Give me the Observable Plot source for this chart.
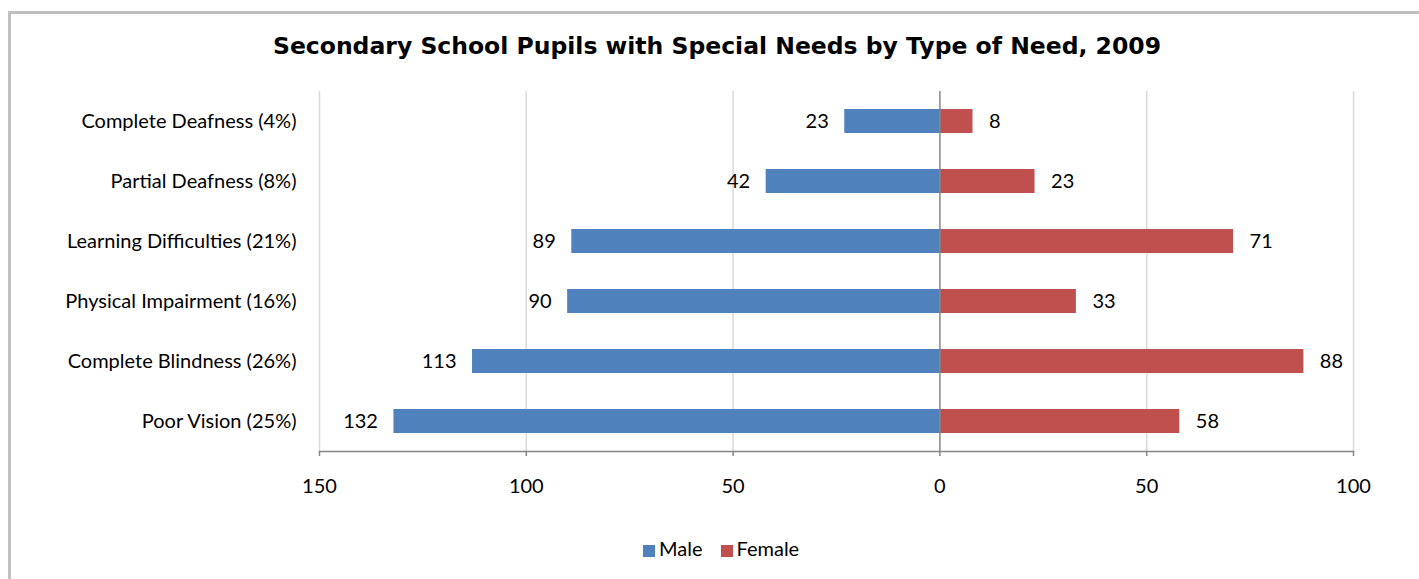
<!DOCTYPE html>
<html>
<head>
<meta charset="utf-8">
<script src="https://cdn.jsdelivr.net/npm/d3@7"></script>
<script src="https://cdn.jsdelivr.net/npm/@observablehq/plot@0.6"></script>
<style>
  html, body { margin: 0; padding: 0; background: #fff; }
  #wrap { position: relative; width: 1419px; height: 579px; overflow: hidden; }
  #box { position: absolute; left: 8px; top: 11px; width: 1500px; height: 700px;
         border-top: 3px solid #bfbfbf; border-left: 3px solid #bfbfbf; }
  #chart { position: absolute; left: 0; top: 0; }
  #title { position: absolute; left: 0; width: 1434px; top: 32px; line-height: 28px; text-align: center;
           font-family: "DejaVu Sans", sans-serif; font-weight: bold; font-size: 23.5px; color: #000; }
  #legend { position: absolute; top: 536px; left: 643px; font-family: Lato, sans-serif;
            font-size: 20px; line-height: 24px; color: #000; white-space: nowrap; }
  .sw { display: inline-block; width: 12px; height: 12px; margin-right: 4px; vertical-align: -1px; }
  .item { margin-right: 18px; }
</style>
</head>
<body>
<div id="wrap">
  <div id="box"></div>
  <div id="chart"></div>
  <div id="title">Secondary School Pupils with Special Needs by Type of Need, 2009</div>
  <div id="legend"><span class="item"><span class="sw" style="background:#4f81bd"></span>Male</span><span><span class="sw" style="background:#c0504d"></span>Female</span></div>
</div>
<script>
// Type of need, top to bottom, with share of all pupils
const categories = [
  "Complete Deafness (4%)",
  "Partial Deafness (8%)",
  "Learning Difficulties (21%)",
  "Physical Impairment (16%)",
  "Complete Blindness (26%)",
  "Poor Vision (25%)"
];
const male = [23, 42, 89, 90, 113, 132];
const female = [8, 23, 71, 33, 88, 58];
const xTicks = [-150, -100, -50, 0, 50, 100];
const gridTicks = [-150, -100, -50, 50, 100];

const rows = categories.map((c, i) => ({category: c, male: male[i], female: female[i]}));

const chart = Plot.plot({
  width: 1419,
  height: 579,
  marginLeft: 319,
  marginRight: 66,
  marginTop: 91,
  marginBottom: 128,
  style: {fontFamily: "Lato, sans-serif", fontSize: "20px", color: "#000", background: "transparent"},
  x: {domain: [-150, 100]},
  y: {domain: categories, paddingInner: 0.6, paddingOuter: 0.3},
  marks: [
    Plot.ruleX(gridTicks, {stroke: "#d9d9d9", strokeWidth: 1.5}),
    Plot.barX(rows, {y: "category", x1: 0, x2: d => -d.male, fill: "#4f81bd"}),
    Plot.barX(rows, {y: "category", x1: 0, x2: "female", fill: "#c0504d"}),
    Plot.ruleX([0], {stroke: "#868686", strokeWidth: 1.5}),
    Plot.frame({anchor: "bottom", stroke: "#868686", strokeWidth: 1.5}),
    Plot.text(rows, {y: "category", x: d => -d.male, text: d => String(d.male), textAnchor: "end", dx: -16, fill: "#000"}),
    Plot.text(rows, {y: "category", x: "female", text: d => String(d.female), textAnchor: "start", dx: 16, fill: "#000"}),
    Plot.axisX({ticks: xTicks, tickFormat: d => String(Math.abs(d)), tickSize: 5, tickPadding: 22,
                stroke: "#868686", strokeWidth: 1.5, fill: "#000", label: null}),
    Plot.axisY({tickSize: 0, tickPadding: 23, fill: "#000", label: null})
  ]
});
document.getElementById("chart").appendChild(chart);
</script>
</body>
</html>
